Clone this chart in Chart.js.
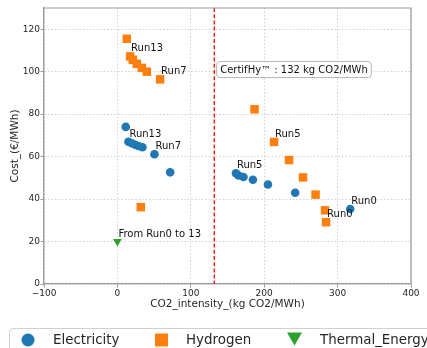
<!DOCTYPE html>
<html>
<head>
<meta charset="utf-8">
<script src="https://cdn.jsdelivr.net/npm/chart.js@4/dist/chart.umd.min.js"></script>
<style>
  html, body { margin: 0; padding: 0; background: #fff; overflow: hidden; }
  #wrap { position: relative; width: 427px; height: 348px; }
</style>
</head>
<body>
<div id="wrap"><canvas id="c" width="427" height="348"></canvas></div>
<script>
// Axis ticks
const xTicks = [-100, 0, 100, 200, 300, 400];
const yTicks = [0, 20, 40, 60, 80, 100, 120];

// Series names
const seriesNames = ['Electricity', 'Hydrogen', 'Thermal_Energy'];

// Electricity: CO2 intensity (kg CO2/MWh) and cost (€/MWh)
const elecCO2  = [317.2, 242.2, 205.1, 184.6, 171.8, 165.0, 161.5, 71.9, 50.5, 34.1, 28.6, 24.1, 19.6, 15.0, 11.4];
const elecCost = [ 35.3,  43.0,  46.9,  49.1,  50.4,  51.1,  52.2, 52.6, 61.1, 64.4, 65.0, 65.6, 66.3, 67.0, 74.0];

// Hydrogen
const h2CO2  = [284.3, 282.9, 270.0, 252.9, 233.8, 213.4, 186.8, 31.9, 58.2, 40.1, 33.3, 26.5, 21.0, 17.3, 12.8];
const h2Cost = [ 29.1,  34.7,  42.1,  50.2,  58.4,  66.9,  82.3, 36.2, 96.4, 100.0, 101.8, 103.7, 105.6, 107.2, 115.5];

// Thermal energy (same for every run)
const thermalCO2  = [0];
const thermalCost = [20];

// CertifHy threshold
const certifhyLimit = 132;
const certifhyText = 'CertifHy\u2122 : 132 kg CO2/MWh';
const certifhyTextPos = [140, 101];

// Run annotations: [series index, point index, text]
const runNotes = [
  [0, 0, 'Run0'], [0, 6, 'Run5'], [0, 8, 'Run7'], [0, 13, 'Run13'],
  [1, 0, 'Run0'], [1, 5, 'Run5'], [1, 8, 'Run7'], [1, 13, 'Run13'],
  [2, 0, 'From Run0 to 13']
];

const colors = ['#1f77b4', '#ff7f0e', '#2ca02c'];
const FONT = '"DejaVu Sans", Verdana, sans-serif';
const TXT = '#262626';
const SPINE = '#9a9a9a';

const toPoints = (xs, ys) => xs.map((x, i) => ({ x: x, y: ys[i] }));

function roundRect(ctx, x, y, w, h, r) {
  ctx.beginPath();
  ctx.moveTo(x + r, y);
  ctx.lineTo(x + w - r, y);
  ctx.arcTo(x + w, y, x + w, y + r, r);
  ctx.lineTo(x + w, y + h - r);
  ctx.arcTo(x + w, y + h, x + w - r, y + h, r);
  ctx.lineTo(x + r, y + h);
  ctx.arcTo(x, y + h, x, y + h - r, r);
  ctx.lineTo(x, y + r);
  ctx.arcTo(x, y, x + r, y, r);
  ctx.closePath();
}

const decorations = {
  id: 'decorations',
  beforeDatasetsDraw(chart) {
    const { ctx, chartArea: a, scales } = chart;
    // CertifHy limit line
    const xp = scales.x.getPixelForValue(certifhyLimit);
    ctx.save();
    ctx.strokeStyle = '#ff0000';
    ctx.lineWidth = 1.3;
    ctx.setLineDash([4, 2.2]);
    ctx.beginPath();
    ctx.moveTo(xp, a.top);
    ctx.lineTo(xp, a.bottom);
    ctx.stroke();
    ctx.restore();
  },
  afterDraw(chart) {
    const { ctx, chartArea: a, scales } = chart;
    ctx.save();
    // top and right frame
    ctx.strokeStyle = SPINE;
    ctx.lineWidth = 1.2;
    ctx.beginPath();
    ctx.moveTo(a.left, a.top);
    ctx.lineTo(a.right, a.top);
    ctx.lineTo(a.right, a.bottom);
    ctx.stroke();

    // run labels
    ctx.font = '10px ' + FONT;
    ctx.fillStyle = '#111';
    ctx.textAlign = 'left';
    ctx.textBaseline = 'alphabetic';
    runNotes.forEach(([s, i, text]) => {
      const p = chart.getDatasetMeta(s).data[i];
      ctx.fillText(text, p.x + 1, p.y - 5);
    });

    // CertifHy label box
    const tx = scales.x.getPixelForValue(certifhyTextPos[0]);
    const ty = scales.y.getPixelForValue(certifhyTextPos[1]);
    const tw = ctx.measureText(certifhyText).width;
    roundRect(ctx, tx - 3.5, ty - 8, tw + 7, 16, 3);
    ctx.fillStyle = '#fff';
    ctx.fill();
    ctx.strokeStyle = '#b5b5b5';
    ctx.lineWidth = 1;
    ctx.stroke();
    ctx.fillStyle = '#111';
    ctx.textBaseline = 'middle';
    ctx.fillText(certifhyText, tx, ty + 0.5);

    // legend below the chart
    const ly = 340;
    roundRect(ctx, 9.5, 328.5, 440, 40, 4);
    ctx.fillStyle = '#fff';
    ctx.fill();
    ctx.strokeStyle = '#d0d0d0';
    ctx.lineWidth = 1;
    ctx.stroke();

    ctx.fillStyle = colors[0];
    ctx.beginPath();
    ctx.arc(28, ly, 6.5, 0, Math.PI * 2);
    ctx.fill();

    ctx.fillStyle = colors[1];
    ctx.fillRect(155, ly - 6.5, 13, 13);

    ctx.fillStyle = colors[2];
    ctx.beginPath();
    ctx.moveTo(287, ly - 7.5);
    ctx.lineTo(302, ly - 7.5);
    ctx.lineTo(294.5, ly + 5.5);
    ctx.closePath();
    ctx.fill();

    ctx.font = '13.4px ' + FONT;
    ctx.fillStyle = TXT;
    ctx.textBaseline = 'middle';
    const lx = [53, 186, 320];
    seriesNames.forEach((n, k) => ctx.fillText(n, lx[k], ly + 0.5));
    ctx.restore();
  }
};

const gridCommon = {
  color: '#c4c4c4',
  lineWidth: 0.8,
  tickColor: SPINE,
  tickWidth: 1,
  tickLength: 3.5,
  tickBorderDash: []
};

new Chart(document.getElementById('c'), {
  type: 'scatter',
  data: {
    datasets: [
      {
        label: seriesNames[0],
        data: toPoints(elecCO2, elecCost),
        pointStyle: 'circle',
        pointRadius: 4.3,
        backgroundColor: colors[0],
        borderColor: colors[0],
        borderWidth: 0
      },
      {
        label: seriesNames[1],
        data: toPoints(h2CO2, h2Cost),
        pointStyle: 'rect',
        pointRadius: 6,
        backgroundColor: colors[1],
        borderColor: colors[1],
        borderWidth: 0
      },
      {
        label: seriesNames[2],
        data: toPoints(thermalCO2, thermalCost),
        pointStyle: 'triangle',
        rotation: 180,
        pointRadius: 5,
        backgroundColor: colors[2],
        borderColor: colors[2],
        borderWidth: 0
      }
    ]
  },
  options: {
    responsive: false,
    animation: false,
    devicePixelRatio: 1,
    layout: { padding: { left: 0, right: 16, top: 8, bottom: 37 } },
    plugins: {
      legend: { display: false },
      tooltip: { enabled: false }
    },
    scales: {
      x: {
        type: 'linear',
        min: xTicks[0],
        max: xTicks[xTicks.length - 1],
        afterBuildTicks: s => { s.ticks = xTicks.map(v => ({ value: v })); },
        afterFit: s => { s.height = 27; s.paddingLeft = 0; s.paddingRight = 0; },
        grid: gridCommon,
        border: { color: SPINE, width: 1.3, dash: [1.5, 2] },
        ticks: {
          color: TXT,
          font: { family: FONT, size: 9 },
          padding: 1,
          maxRotation: 0,
          callback: v => String(v).replace('-', '\u2212')
        },
        title: {
          display: true,
          text: 'CO2_intensity_(kg CO2/MWh)',
          color: TXT,
          font: { family: FONT, size: 10.5, lineHeight: 1.2 },
          padding: { top: 0, bottom: 0 }
        }
      },
      y: {
        type: 'linear',
        min: 0,
        max: 130,
        afterBuildTicks: s => { s.ticks = yTicks.map(v => ({ value: v })); },
        afterFit: s => { s.width = 44; s.paddingTop = 0; s.paddingBottom = 0; },
        grid: gridCommon,
        border: { color: SPINE, width: 1.3, dash: [1.5, 2] },
        ticks: {
          color: TXT,
          font: { family: FONT, size: 9 },
          padding: 0.5
        },
        title: {
          display: true,
          text: 'Cost_(\u20ac/MWh)',
          color: TXT,
          font: { family: FONT, size: 10.5, lineHeight: 1.2 },
          padding: { top: 9, bottom: 0 }
        }
      }
    }
  },
  plugins: [decorations]
});
</script>
</body>
</html>
